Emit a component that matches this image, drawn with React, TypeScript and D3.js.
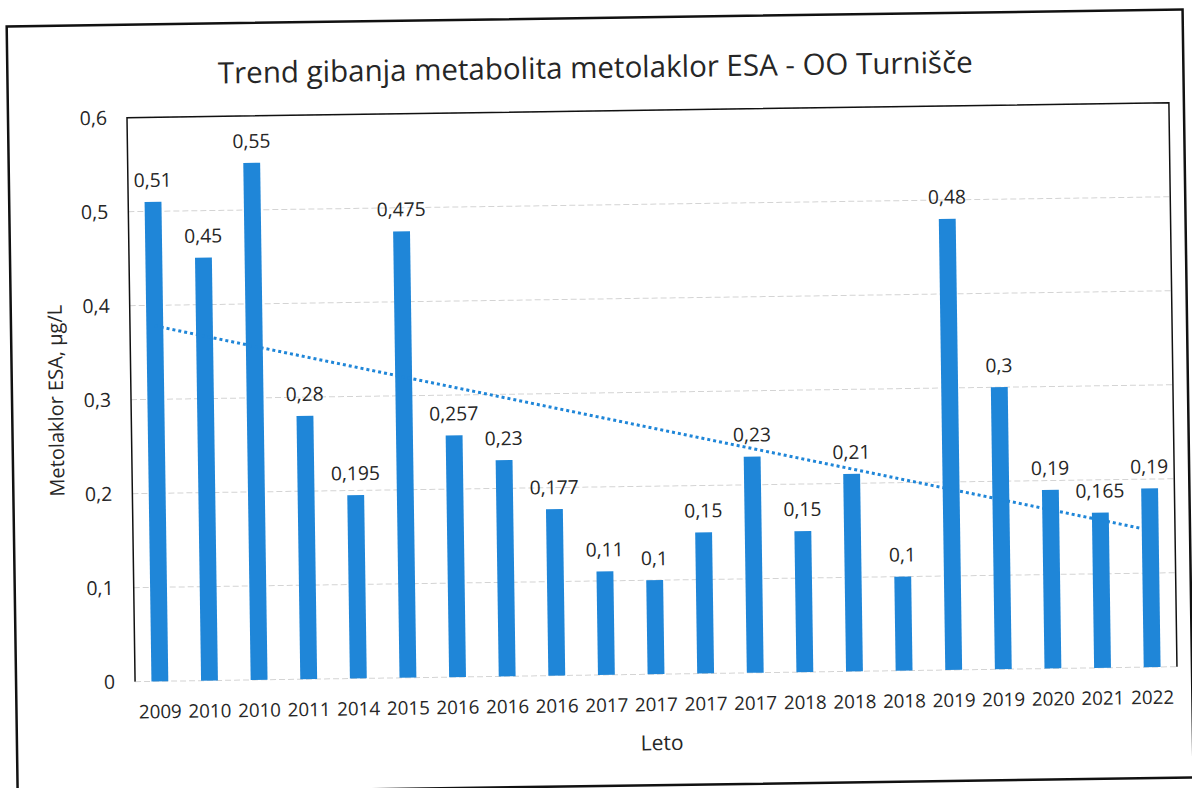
import React, { useEffect, useRef } from "react";
import * as d3 from "d3";

const years = [
  "2009", "2010", "2010", "2011", "2014", "2015", "2016", "2016", "2016", "2017", "2017",
  "2017", "2017", "2018", "2018", "2018", "2019", "2019", "2020", "2021", "2022",
];
const values = [
  0.51, 0.45, 0.55, 0.28, 0.195, 0.475, 0.257, 0.23, 0.177, 0.11, 0.1,
  0.15, 0.23, 0.15, 0.21, 0.1, 0.48, 0.3, 0.19, 0.165, 0.19,
];
const yTicks = [0, 0.1, 0.2, 0.3, 0.4, 0.5, 0.6];

const title = "Trend gibanja metabolita metolaklor ESA - OO Turnišče";
const yTitle = "Metolaklor ESA, µg/L";
const xTitle = "Leto";

const fmt = (v: number) => String(v).replace(".", ",");

export const App: React.FC = () => {
  const chartRef: any = useRef(null);

  useEffect(() => {
    const width = 1192;
    const height = 788;
    const margin = { top: 111, right: 19, bottom: 113, left: 131 };
    const innerWidth = width - margin.left - margin.right;
    const innerHeight = height - margin.top - margin.bottom;
    const font = "'Open Sans', sans-serif";
    const blue = "#1f86d8";
    const ink = "#262626";

    d3.select(chartRef.current).selectAll("*").remove();
    const svg = d3
      .select(chartRef.current)
      .append("svg")
      .attr("width", width)
      .attr("height", height)
      .style("display", "block");

    svg.append("rect").attr("width", width).attr("height", height).attr("fill", "#fff");

    // scan is slightly tilted
    const root = svg.append("g").attr("transform", "rotate(-0.82 596 394)");

    // outer frame
    root
      .append("rect")
      .attr("x", 12)
      .attr("y", 18)
      .attr("width", 1176)
      .attr("height", 768)
      .attr("fill", "none")
      .attr("stroke", "#111")
      .attr("stroke-width", 2.5);

    root
      .append("text")
      .attr("x", 600)
      .attr("y", 78)
      .attr("text-anchor", "middle")
      .attr("font-family", font)
      .attr("font-size", 29.5)
      .attr("fill", ink)
      .text(title);

    const g = root.append("g").attr("transform", `translate(${margin.left},${margin.top})`);

    const xScale = d3
      .scaleBand<number>()
      .domain(d3.range(values.length))
      .range([0, innerWidth])
      .paddingInner(0.66)
      .paddingOuter(0.33);

    const yScale = d3.scaleLinear().domain([0, 0.6]).range([innerHeight, 0]);

    // gridlines
    g.selectAll(".grid")
      .data(yTicks)
      .enter()
      .append("line")
      .attr("x1", 0)
      .attr("x2", innerWidth)
      .attr("y1", (d) => yScale(d))
      .attr("y2", (d) => yScale(d))
      .attr("stroke", "#d4d4d4")
      .attr("stroke-width", 1)
      .attr("stroke-dasharray", "6,3");

    // plot area border (left, top, right)
    g.append("path")
      .attr("d", `M0,${innerHeight}V0H${innerWidth}V${innerHeight}`)
      .attr("fill", "none")
      .attr("stroke", "#111")
      .attr("stroke-width", 1.5);

    // y tick labels
    g.selectAll(".ylab")
      .data(yTicks)
      .enter()
      .append("text")
      .attr("x", -20)
      .attr("y", (d) => yScale(d))
      .attr("dy", "0.35em")
      .attr("text-anchor", "end")
      .attr("font-family", font)
      .attr("font-size", 19.5)
      .attr("fill", ink)
      .text((d) => fmt(d));

    // bars
    g.selectAll(".bar")
      .data(values)
      .enter()
      .append("rect")
      .attr("x", (_, i) => xScale(i)!)
      .attr("y", (d) => yScale(d))
      .attr("width", xScale.bandwidth())
      .attr("height", (d) => innerHeight - yScale(d))
      .attr("fill", blue);

    // data labels
    g.selectAll(".dlab")
      .data(values)
      .enter()
      .append("text")
      .attr("x", (_, i) => xScale(i)! + xScale.bandwidth() / 2)
      .attr("y", (d) => yScale(d) - 15)
      .attr("text-anchor", "middle")
      .attr("font-family", font)
      .attr("font-size", 19.3)
      .attr("fill", ink)
      .text((d) => fmt(d));

    // x labels
    g.selectAll(".xlab")
      .data(years)
      .enter()
      .append("text")
      .attr("x", (_, i) => xScale(i)! + xScale.bandwidth() / 2)
      .attr("y", innerHeight + 37)
      .attr("text-anchor", "middle")
      .attr("font-family", font)
      .attr("font-size", 18.8)
      .attr("fill", ink)
      .text((d) => d);

    // linear trendline (least squares)
    const n = values.length;
    const xs = d3.range(1, n + 1);
    const mx = d3.mean(xs)!;
    const my = d3.mean(values)!;
    const slope =
      d3.sum(xs, (x, i) => (x - mx) * (values[i] - my)) / d3.sum(xs, (x) => (x - mx) * (x - mx));
    const icpt = my - slope * mx;
    const trend = [1, n].map((x) => ({ i: x - 1, y: icpt + slope * x }));
    const line: any = d3
      .line()
      .x((d: any) => xScale(d.i)! + xScale.bandwidth() / 2)
      .y((d: any) => yScale(d.y));
    g.append("path")
      .datum(trend)
      .attr("fill", "none")
      .attr("stroke", blue)
      .attr("stroke-width", 3)
      .attr("stroke-dasharray", "3,3")
      .attr("d", line);

    // axis titles
    g.append("text")
      .attr("transform", `translate(${-68},${innerHeight / 2}) rotate(-90)`)
      .attr("text-anchor", "middle")
      .attr("font-family", font)
      .attr("font-size", 20)
      .attr("fill", ink)
      .text(yTitle);

    g.append("text")
      .attr("x", innerWidth / 2 + 5)
      .attr("y", innerHeight + 76)
      .attr("text-anchor", "middle")
      .attr("font-family", font)
      .attr("font-size", 21)
      .attr("fill", ink)
      .text(xTitle);
  }, []);

  return <div ref={chartRef} style={{ position: "absolute", left: 0, top: 0, width: 1192, height: 788 }}></div>;
};

export default App;
